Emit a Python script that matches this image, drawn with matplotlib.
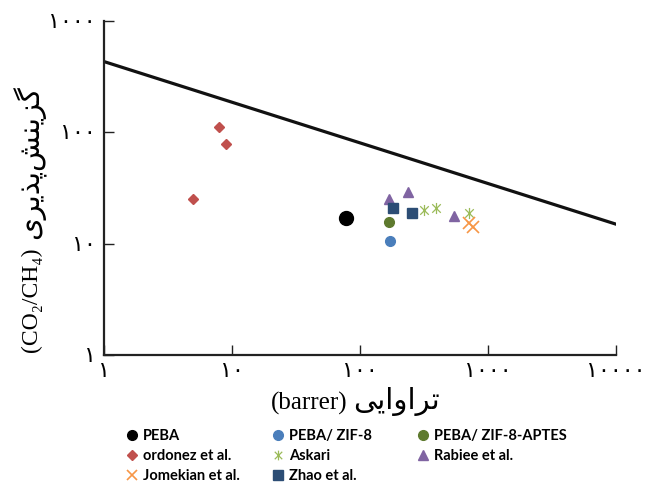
import matplotlib
matplotlib.use("Agg")
import matplotlib.pyplot as plt
from matplotlib.lines import Line2D
from matplotlib.path import Path

# upper bound line (end points)
bound_x = [1, 10000]
bound_y = [432, 15.0]

# membrane data (permeability, selectivity)
peba_x, peba_y = [78], [17.0]
zif8_x, zif8_y = [172], [10.6]
aptes_x, aptes_y = [169], [15.7]
ordonez_x, ordonez_y = [7.9, 9.0, 4.96], [112, 78.7, 25.2]
askari_x, askari_y = [319, 396, 718], [20.1, 21.0, 19.0]
rabiee_x, rabiee_y = [168, 238, 545], [25.1, 29.3, 17.9]
zhao_x, zhao_y = [183, 256], [20.8, 19.0]
jomekian_x, jomekian_y = [710, 763], [15.3, 14.0]

x_ticks = [1, 10, 100, 1000, 10000]
x_tick_labels = ['۱', '۱۰', '۱۰۰', '۱۰۰۰', '۱۰۰۰۰']
y_ticks = [1, 10, 100, 1000]
y_tick_labels = ['۱', '۱۰', '۱۰۰', '۱۰۰۰']

# persian text in visual order (presentation forms, reversed)
fa_xlabel = '\uFBFD\uFBFE\uFE8D\uFEED\uFE8D\uFEAE\uFE97'      # تراوایی
fa_ylabel = '\uFBFC\uFEAE\uFBFE\uFEAC\uFB58\uFEB6\uFEE8\uFBFE\uFEB0\uFB94'  # گزینش‌پذیری

serif_fa = ['Liberation Serif', 'DejaVu Sans']

# excel-like star marker: an x with a vertical bar
star = Path([(-1, -1), (1, 1), (-1, 1), (1, -1), (0, -1.3), (0, 1.3)],
            [Path.MOVETO, Path.LINETO, Path.MOVETO, Path.LINETO, Path.MOVETO, Path.LINETO])

fig = plt.figure(figsize=(6.54, 4.88), dpi=100)
ax = fig.add_axes([0.159, 0.2725, 0.7824, 0.6845])

ax.plot(bound_x, bound_y, color='#111111', linewidth=2.3, zorder=2)

ax.plot(peba_x, peba_y, 'o', color='black', markersize=10, linestyle='none', zorder=3)
ax.plot(zif8_x, zif8_y, 'o', color='#4a7ebb', markersize=7, linestyle='none', zorder=3)
ax.plot(aptes_x, aptes_y, 'o', color='#5e7a2e', markersize=7, linestyle='none', zorder=3)
ax.plot(ordonez_x, ordonez_y, 'D', color='#c0504d', markersize=5.5, linestyle='none', zorder=3)
ax.plot(askari_x, askari_y, marker=star, color='#9bbb59', markersize=8, markeredgewidth=0.9,
        linestyle='none', zorder=3)
ax.plot(rabiee_x, rabiee_y, '^', color='#8064a2', markersize=7.5, linestyle='none', zorder=3)
ax.plot(zhao_x, zhao_y, 's', color='#2c4d75', markersize=7, linestyle='none', zorder=3)
ax.plot(jomekian_x, jomekian_y, 'x', color='#f79646', markersize=8, markeredgewidth=1.2,
        linestyle='none', zorder=3)

ax.set_xscale('log')
ax.set_yscale('log')
ax.set_xlim(1, 10000)
ax.set_ylim(1, 1000)
ax.set_xticks(x_ticks)
ax.set_xticklabels(x_tick_labels)
ax.set_yticks(y_ticks)
ax.set_yticklabels(y_tick_labels)
ax.minorticks_off()

for s in ['top', 'right']:
    ax.spines[s].set_visible(False)
for s in ['left', 'bottom']:
    ax.spines[s].set_linewidth(1.6)
    ax.spines[s].set_color('#222222')

ax.tick_params(axis='both', direction='in', length=7, width=1, color='#222222',
               labelsize=16)
ax.tick_params(axis='y', pad=6)
ax.tick_params(axis='x', pad=6)
for lab in ax.get_xticklabels() + ax.get_yticklabels():
    lab.set_family(serif_fa)

# axis titles: latin and persian parts placed separately
fig.text(347 / 654, 1 - 403 / 488, '(barrer)', family='Liberation Serif',
         fontsize=18, ha='right', va='center')
fig.text(353 / 654, 1 - 401 / 488, fa_xlabel, family='DejaVu Sans',
         fontsize=21, ha='left', va='center')
fig.text(31 / 654, 1 - 300 / 488, '(CO\u2082/CH\u2084)', family=serif_fa,
         fontsize=17, ha='center', va='center', rotation=90)
fig.text(29 / 654, 1 - 162 / 488, fa_ylabel, family='DejaVu Sans',
         fontsize=21, ha='center', va='center', rotation=90)

handles = [
    Line2D([], [], marker='o', color='black', markersize=7, linestyle='none'),
    Line2D([], [], marker='D', color='#c0504d', markersize=5, linestyle='none'),
    Line2D([], [], marker='x', color='#f79646', markersize=7, markeredgewidth=1.2, linestyle='none'),
    Line2D([], [], marker='o', color='#4a7ebb', markersize=7, linestyle='none'),
    Line2D([], [], marker=star, color='#9bbb59', markersize=7, markeredgewidth=0.9, linestyle='none'),
    Line2D([], [], marker='s', color='#2c4d75', markersize=6.5, linestyle='none'),
    Line2D([], [], marker='o', color='#5e7a2e', markersize=7, linestyle='none'),
    Line2D([], [], marker='^', color='#8064a2', markersize=7.5, linestyle='none'),
]
labels = ['PEBA', 'ordonez et al.', 'Jomekian et al.', 'PEBA/ ZIF-8', 'Askari',
          'Zhao et al.', 'PEBA/ ZIF-8-APTES', 'Rabiee et al.']

col_x = [126 / 654, 272 / 654, 417 / 654]
col_items = [(0, 3), (3, 6), (6, 8)]
for cx, (i0, i1) in zip(col_x, col_items):
    fig.legend(handles[i0:i1], labels[i0:i1], loc='upper left', bbox_to_anchor=(cx, 1 - 429 / 488),
               frameon=False, prop={'family': 'Lato', 'weight': 'bold', 'size': 10.5},
               handlelength=0.8, handletextpad=0.35, labelspacing=0.4,
               borderaxespad=0, borderpad=0)

fig.savefig('out.png', dpi=100)
